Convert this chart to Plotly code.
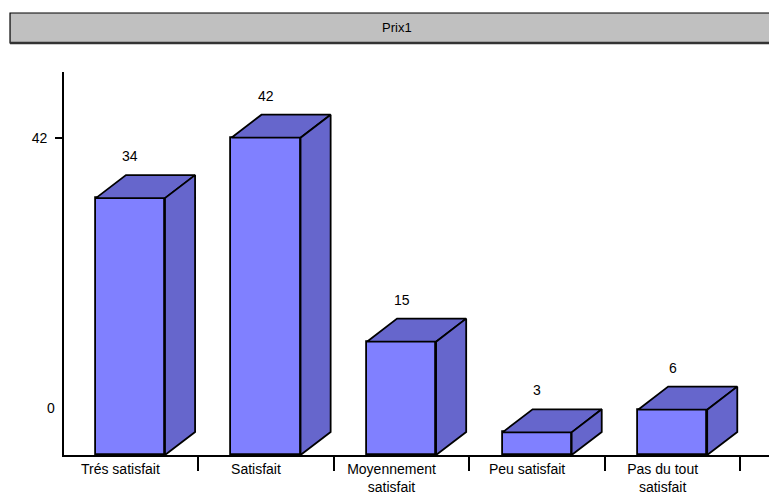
import plotly.graph_objects as go

categories = ["Trés satisfait", "Satisfait", "Moyennement<br>satisfait", "Peu satisfait", "Pas du tout<br>satisfait"]
values = [34, 42, 15, 3, 6]
title_text = "Prix1"
ytick_vals = [42]
ytick_text = ["42"]

FRONT = "#8080FF"
SIDE = "#6666CC"
FONT = "Liberation Sans, Arial, sans-serif"

W = 0.51      # bar width (category units)
DX = 0.222    # depth offset in x (category units)
DY = 3.05     # depth offset in y (data units)

idx = list(range(len(categories)))
fig = go.Figure()

fig.add_trace(go.Bar(x=idx, y=values, width=W, marker=dict(color=FRONT, line=dict(color="black", width=1.8)),
                     hoverinfo="skip", showlegend=False))

for i, v in zip(idx, values):
    xl, xr = i - W / 2, i + W / 2
    # top face
    fig.add_trace(go.Scatter(x=[xl, xl + DX, xr + DX, xr, xl], y=[v, v + DY, v + DY, v, v],
                             fill="toself", fillcolor=SIDE, mode="lines",
                             line=dict(color="black", width=1.8), hoverinfo="skip", showlegend=False))
    # side face
    fig.add_trace(go.Scatter(x=[xr, xr, xr + DX, xr + DX, xr], y=[0, v, v + DY, DY, 0],
                             fill="toself", fillcolor=SIDE, mode="lines",
                             line=dict(color="black", width=1.8), hoverinfo="skip", showlegend=False))
    fig.add_annotation(x=i, y=v + DY + 2.5, text=str(v), showarrow=False,
                       font=dict(family=FONT, size=14, color="black"))

# "0" label
fig.add_annotation(x=-0.0095, xref="paper", y=6.2, yref="y", text="0", showarrow=False,
                   xanchor="right", yanchor="middle", font=dict(family=FONT, size=14, color="black"))

# title box
fig.add_shape(type="rect", xref="paper", yref="paper", x0=-0.0757, x1=1.06, y0=1.0757, y1=1.154,
              fillcolor="#C0C0C0", line=dict(color="black", width=1.2), layer="above")
fig.add_shape(type="line", xref="paper", yref="paper", x0=-0.0757, x1=1.06, y0=1.0757, y1=1.0757,
              line=dict(color="#333333", width=2.5), layer="above")
fig.add_annotation(x=0.467, xref="paper", y=1.115, yref="paper", text=title_text, showarrow=False,
                   xanchor="center", yanchor="middle",
                   font=dict(family=FONT, size=13, color="black"))

fig.update_layout(
    width=769, height=490,
    margin=dict(l=56, r=0, t=64, b=43, autoexpand=False),
    paper_bgcolor="white", plot_bgcolor="white",
    bargap=0,
    xaxis=dict(range=[-0.49, 4.77], tickvals=idx, ticktext=categories, ticks="", automargin=False,
               ticklabelshift=-10,
               showline=True, linecolor="black", linewidth=1.8, showgrid=False, zeroline=False,
               tickfont=dict(family=FONT, size=14, color="black"),
               minor=dict(tick0=0.5, dtick=1, ticks="outside", ticklen=14, tickcolor="black", tickwidth=1.5,
                          showgrid=False)),
    yaxis=dict(range=[0, 50.7], tickvals=ytick_vals, ticktext=ytick_text, ticks="outside", ticklen=7,
               tickcolor="black", tickwidth=1.5, automargin=False, ticklabelstandoff=5,
               showline=True, linecolor="black", linewidth=1.8, showgrid=False, zeroline=False,
               tickfont=dict(family=FONT, size=14, color="black")),
)

fig.write_html("out.html")
